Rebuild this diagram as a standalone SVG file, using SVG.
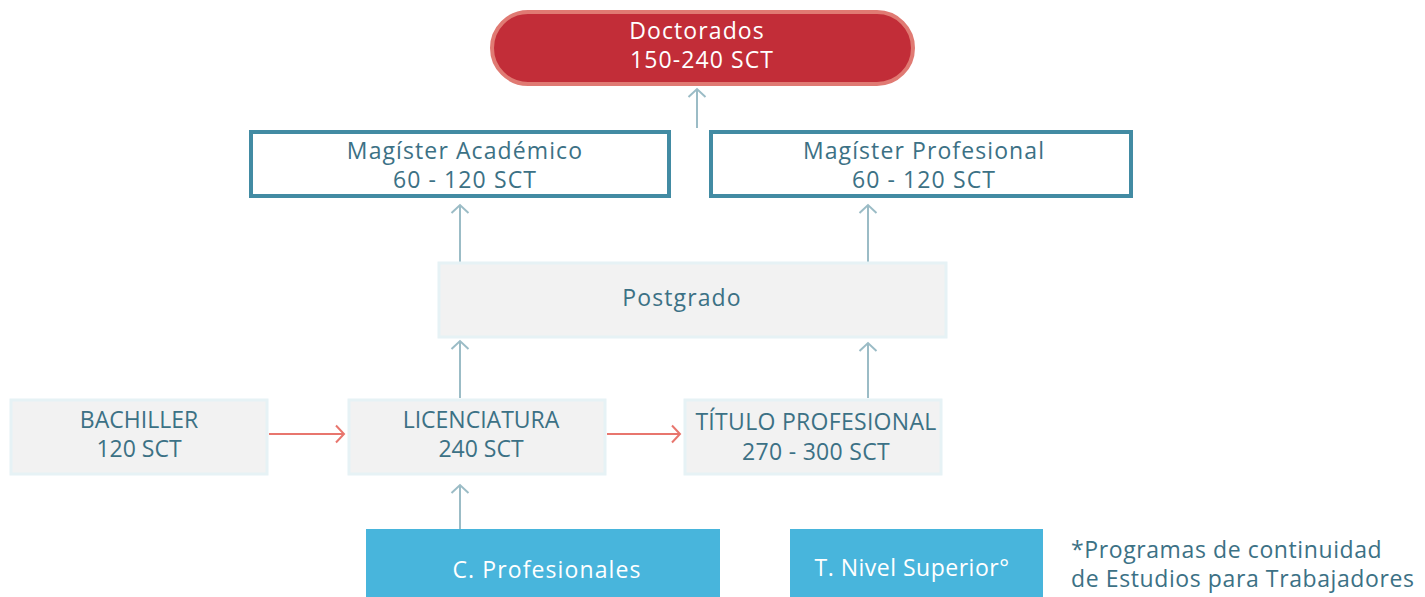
<svg xmlns="http://www.w3.org/2000/svg" width="1425" height="597" viewBox="0 0 1425 597">
<defs>
<marker id="ab" viewBox="0 0 20 20" refX="18" refY="10" markerWidth="20" markerHeight="20" markerUnits="userSpaceOnUse" orient="auto">
<path d="M10,1.5 L18,10 L10,18.5" fill="none" stroke="#9bbcc6" stroke-width="2"/>
</marker>
<marker id="ar" viewBox="0 0 20 20" refX="18" refY="10" markerWidth="20" markerHeight="20" markerUnits="userSpaceOnUse" orient="auto">
<path d="M10,1.5 L18,10 L10,18.5" fill="none" stroke="#e8766e" stroke-width="2"/>
</marker>
</defs>
<style>
text{font-family:"Open Sans","Noto Sans",sans-serif;text-anchor:middle;font-size:23px;letter-spacing:1.1px;fill:#3c7185}
.w{fill:#ffffff}
.g{fill:#f2f2f2;stroke:#e6f2f5;stroke-width:3}
.m{fill:#ffffff;stroke:#428ba3;stroke-width:4}
.c{fill:#48b5dc}
.cb{stroke:#9bbcc6;stroke-width:2;fill:none}
.cr{stroke:#e8766e;stroke-width:2;fill:none}
.n{text-anchor:start;letter-spacing:0.6px}
</style>
<rect width="1425" height="597" fill="#ffffff"/>
<g id="connectors">
<line class="cb" x1="697" y1="128" x2="697" y2="89" marker-end="url(#ab)"/>
<line class="cb" x1="460" y1="262" x2="460" y2="205" marker-end="url(#ab)"/>
<line class="cb" x1="868" y1="262" x2="868" y2="205" marker-end="url(#ab)"/>
<line class="cb" x1="460" y1="398" x2="460" y2="341" marker-end="url(#ab)"/>
<line class="cb" x1="868" y1="398" x2="868" y2="343" marker-end="url(#ab)"/>
<line class="cb" x1="460" y1="529" x2="460" y2="485" marker-end="url(#ab)"/>
<line class="cr" x1="269" y1="434" x2="344" y2="434" marker-end="url(#ar)"/>
<line class="cr" x1="607" y1="434" x2="680" y2="434" marker-end="url(#ar)"/>
</g>
<g id="doctorados">
<rect x="492" y="12" width="421" height="72" rx="36" fill="#c22d38" stroke="#e07a73" stroke-width="4"/>
<text class="w" x="697" y="39">Doctorados</text>
<text class="w" x="702" y="68">150-240 SCT</text>
</g>
<g id="magister-academico">
<rect class="m" x="251" y="132" width="418" height="64"/>
<text x="465" y="159">Magíster Académico</text>
<text x="465" y="188">60 - 120 SCT</text>
</g>
<g id="magister-profesional">
<rect class="m" x="711" y="132" width="420" height="64"/>
<text x="924" y="159">Magíster Profesional</text>
<text x="924" y="188">60 - 120 SCT</text>
</g>
<g id="postgrado">
<rect class="g" x="439" y="263" width="507" height="74"/>
<text x="682" y="306">Postgrado</text>
</g>
<g id="bachiller">
<rect class="g" x="11" y="400" width="256" height="74"/>
<text x="139" y="428" style="letter-spacing:0">BACHILLER</text>
<text x="139" y="457" style="letter-spacing:0">120 SCT</text>
</g>
<g id="licenciatura">
<rect class="g" x="349" y="400" width="256" height="74"/>
<text x="481" y="428" style="letter-spacing:0">LICENCIATURA</text>
<text x="481" y="457" style="letter-spacing:0">240 SCT</text>
</g>
<g id="titulo-profesional">
<rect class="g" x="685" y="400" width="256" height="74"/>
<text x="816" y="430" style="letter-spacing:0.3px">TÍTULO PROFESIONAL</text>
<text x="816" y="460" style="letter-spacing:0.3px">270 - 300 SCT</text>
</g>
<g id="c-profesionales">
<rect class="c" x="366" y="529" width="354" height="68"/>
<text class="w" x="547" y="578">C. Profesionales</text>
</g>
<g id="t-nivel-superior">
<rect class="c" x="790" y="529" width="253" height="68"/>
<text class="w" x="912" y="576" style="letter-spacing:0.5px">T. Nivel Superior°</text>
</g>
<g id="nota">
<text class="n" x="1071" y="558">*Programas de continuidad</text>
<text class="n" x="1071" y="587">de Estudios para Trabajadores</text>
</g>
</svg>
